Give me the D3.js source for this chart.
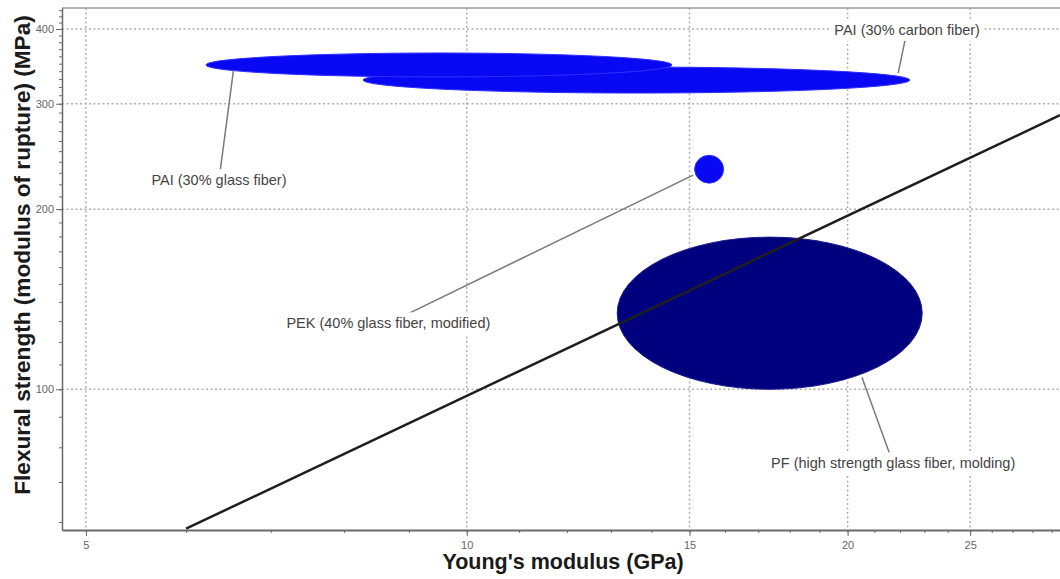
<!DOCTYPE html>
<html>
  <head>
    <meta charset="utf-8">
    <title>Flexural strength vs Young's modulus</title>
    <script src="https://d3js.org/d3.v7.min.js"></script>
    <style>
      body { margin: 0; background: #fff; }
      svg { font-family: "Liberation Sans", Arial, sans-serif; }
      .grid line { stroke: #b0b0b0; stroke-width: 1.5; stroke-dasharray: 2,2.5; }
      .axis path, .axis line { stroke: #6a6a6a; }
      .axis text { fill: #666; font-size: 11px; }
      .title { font-weight: bold; fill: #1a1a1a; }
      .label text { fill: #444; font-size: 14.5px; }
    </style>
  </head>
  <body>
    <svg width="1060" height="579"></svg>

    <script>
      // materials, listed in drawing order
      var materials = ["PAI (30% carbon fiber)", "PAI (30% glass fiber)",
                       "PEK (40% glass fiber, modified)", "PF (high strength glass fiber, molding)"];
      // Young's modulus range (GPa)
      var modulusLow  = [8.28, 6.22, 15.14, 13.15];
      var modulusHigh = [22.4, 14.53, 15.96, 22.91];
      // flexural strength range (MPa)
      var strengthLow  = [312.6, 332.6, 221, 100];
      var strengthHigh = [345.5, 364.7, 246, 179.6];

      // leader lines: point on the bubble and label centre, in data units
      var pointModulus  = [21.93, 6.54, 15.1, 20.53];
      var pointStrength = [337.6, 341.2, 228, 104.7];
      var labelModulus  = [22.29, 6.37, 8.67, 21.73];
      var labelStrength = [398.6, 223.6, 128.9, 75.2];

      // guide line: strength / modulus = const (MPa per GPa)
      var guideRatio = 9.75;
      var guideStart = 6;

      var xTicks = [5, 10, 15, 20, 25];
      var yTicks = [100, 200, 300, 400];

      var colours = ["#0808f2", "#0808f2", "#0808f2", "#00007f"];

      var plotLeft = 62, plotRight = 1060, plotTop = 8, plotBottom = 530;

      var x = d3.scaleLog().domain([4.787, 29.44]).range([plotLeft, plotRight]);
      var y = d3.scaleLog().domain([58.2, 433.6]).range([plotBottom, plotTop]);

      var svg = d3.select("svg");

      svg.append("clipPath").attr("id", "plot")
        .append("rect")
        .attr("x", plotLeft).attr("y", plotTop)
        .attr("width", plotRight - plotLeft).attr("height", plotBottom - plotTop);

      // grid
      var grid = svg.append("g").attr("class", "grid");
      grid.selectAll(".gx").data(xTicks).enter().append("line")
          .attr("x1", d => x(d)).attr("x2", d => x(d))
          .attr("y1", plotTop).attr("y2", plotBottom);
      grid.selectAll(".gy").data(yTicks).enter().append("line")
          .attr("x1", plotLeft).attr("x2", plotRight)
          .attr("y1", d => y(d)).attr("y2", d => y(d));

      // top border
      svg.append("line")
          .attr("x1", plotLeft).attr("x2", plotRight).attr("y1", plotTop).attr("y2", plotTop)
          .attr("stroke", "#9a9a9a").attr("stroke-width", 1.5);

      // bubbles
      var plot = svg.append("g").attr("clip-path", "url(#plot)");
      plot.selectAll("ellipse")
          .data(materials)
          .enter().append("ellipse")
          .attr("cx", (d, i) => (x(modulusLow[i]) + x(modulusHigh[i])) / 2)
          .attr("cy", (d, i) => (y(strengthLow[i]) + y(strengthHigh[i])) / 2)
          .attr("rx", (d, i) => (x(modulusHigh[i]) - x(modulusLow[i])) / 2)
          .attr("ry", (d, i) => (y(strengthLow[i]) - y(strengthHigh[i])) / 2)
          .attr("fill", (d, i) => colours[i])
          .attr("stroke", (d, i) => i < 3 ? "#3030ff" : "#1a1a90")
          .attr("stroke-width", 1);

      // guide line
      var guideEnd = x.domain()[1];
      plot.append("line")
          .attr("x1", x(guideStart)).attr("y1", y(guideStart * guideRatio))
          .attr("x2", x(guideEnd)).attr("y2", y(guideEnd * guideRatio))
          .attr("stroke", "#1e1e1e").attr("stroke-width", 2.5);

      // axes
      var yMinor = d3.range(60, 440, 10);
      var xMinor = d3.range(5, 30, 1);

      svg.append("g").attr("class", "axis")
          .attr("transform", "translate(" + plotLeft + ",0)")
          .call(d3.axisLeft(y).tickValues(yMinor).tickSize(3).tickFormat("").tickSizeOuter(0))
          .select(".domain").attr("stroke-width", 1.5);
      svg.append("g").attr("class", "axis")
          .attr("transform", "translate(" + plotLeft + ",0)")
          .call(d3.axisLeft(y).tickValues(yTicks).tickSize(6).tickPadding(2).tickFormat(d3.format("d")).tickSizeOuter(0))
          .select(".domain").remove();

      svg.append("g").attr("class", "axis")
          .attr("transform", "translate(0," + plotBottom + ")")
          .call(d3.axisBottom(x).tickValues(xMinor).tickSize(3).tickFormat("").tickSizeOuter(0))
          .select(".domain").attr("stroke-width", 2);
      svg.append("g").attr("class", "axis")
          .attr("transform", "translate(0," + plotBottom + ")")
          .call(d3.axisBottom(x).tickValues(xTicks).tickSize(6).tickPadding(5).tickFormat(d3.format("d")).tickSizeOuter(0))
          .select(".domain").remove();

      // titles
      svg.append("text").attr("class", "title")
          .attr("x", 563).attr("y", 569)
          .attr("text-anchor", "middle")
          .style("font-size", "21.5px")
          .text("Young's modulus (GPa)");
      svg.append("text").attr("class", "title")
          .attr("transform", "translate(30,255) rotate(-90)")
          .attr("text-anchor", "middle")
          .style("font-size", "22.6px")
          .text("Flexural strength (modulus of rupture) (MPa)");

      // leaders and labels
      var labels = svg.append("g").attr("class", "label");
      labels.selectAll("line")
          .data(materials)
          .enter().append("line")
          .attr("x1", (d, i) => x(pointModulus[i])).attr("y1", (d, i) => y(pointStrength[i]))
          .attr("x2", (d, i) => x(labelModulus[i])).attr("y2", (d, i) => y(labelStrength[i]))
          .attr("stroke", "#7a7a7a").attr("stroke-width", 1.5);

      var tags = labels.selectAll("g.tag")
          .data(materials)
          .enter().append("g").attr("class", "tag")
          .attr("transform", (d, i) => "translate(" + x(labelModulus[i]) + "," + y(labelStrength[i]) + ")");
      tags.append("rect").attr("fill", "#fff");
      tags.append("text")
          .attr("text-anchor", "middle")
          .attr("dy", "0.35em")
          .text(d => d);
      tags.each(function() {
        var b = d3.select(this).select("text").node().getBBox();
        d3.select(this).select("rect")
          .attr("x", b.x - 4).attr("y", -11)
          .attr("width", b.width + 8).attr("height", 22);
      });
    </script>
  </body>
</html>
